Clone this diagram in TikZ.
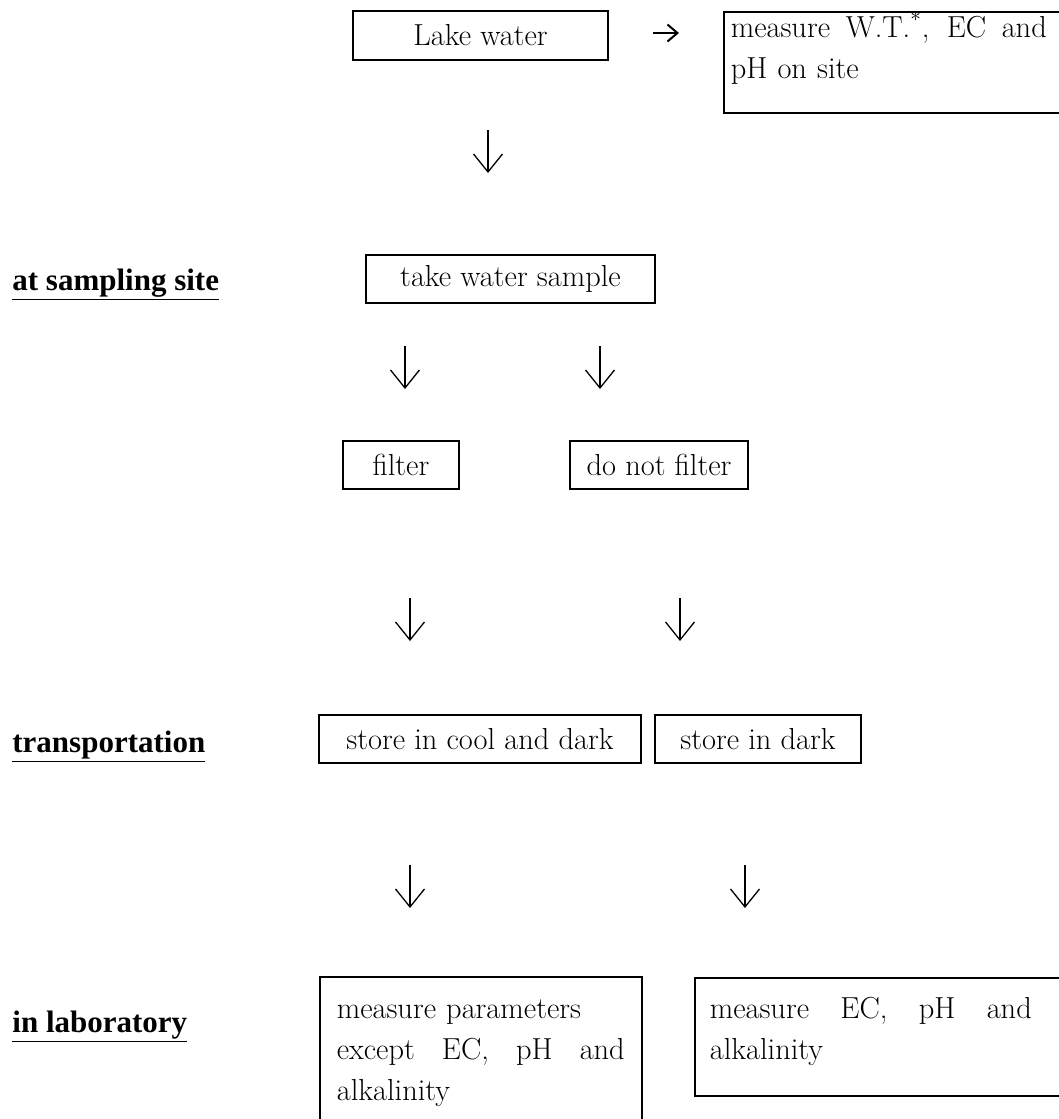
\documentclass[tikz,border=0pt]{standalone}
\usepackage{fontspec}
\usetikzlibrary{arrows.meta}
\newfontfamily\labelfont{Liberation Serif}
\newcommand{\boxfont}{\fontsize{15.2}{20.5}\selectfont}
\newcommand{\phasefont}{\labelfont\bfseries\fontsize{15.5}{18}\selectfont}
% one line stretched to a given width (align=left makes spaces rigid)
\newcommand{\spreadline}[2]{\makebox[#1][s]{\spaceskip=0pt\relax\xspaceskip=0pt\relax #2}}

\begin{document}
\begin{tikzpicture}[x=0.5pt, y=-0.5pt,
    box/.style={draw, line width=0.8pt, inner sep=0pt, font=\boxfont},
    textbox/.style={box, anchor=north west, align=left},
    phase/.style={anchor=base west, inner sep=0pt, font=\phasefont},
    down/.style={line width=0.65pt, -{Straight Barb[length=9pt, width=14.5pt]}}]
    \useasboundingbox (0,0) rectangle (1059,1119);

    % Steps, one box each
    \node[box, minimum width=127.5pt, minimum height=24.5pt] (lake) at (480.5,35.5) {Lake water};
    \node[textbox, inner xsep=3.5pt, text width=165pt, text height=13pt, text depth=37.5pt]
        (onsite) at (723,11)
        {\spreadline{158pt}{measure W.T.\textsuperscript{*}, EC and}\\ pH on site};
    \node[box, minimum width=144.5pt, minimum height=24pt] (sample) at (510.5,279) {take water sample};
    \node[box, minimum width=58pt, minimum height=24pt] (filter) at (401,465) {filter};
    \node[box, minimum width=89pt, minimum height=24pt] (nofilter) at (659,465) {do not filter};
    \node[box, minimum width=161pt, minimum height=24pt] (cooldark) at (480,739) {store in cool and dark};
    \node[box, minimum width=103pt, minimum height=24pt] (dark) at (758,739) {store in dark};
    \node[textbox, inner xsep=8.5pt, text width=144pt, text height=21pt, text depth=56pt]
        (params) at (319,976)
        {measure parameters\\ \spreadline{144pt}{except EC, pH and}\\ alkalinity};
    \node[textbox, inner xsep=7.5pt, text width=180pt, text height=20.5pt, text depth=38.5pt]
        (ecph) at (694,977)
        {\spreadline{161pt}{measure EC, pH and}\\ alkalinity};

    % Phases on the left
    \node[phase] (site) at (12,290) {\underline{at sampling site}};
    \node[phase] (transport) at (12,752) {\underline{transportation}};
    \node[phase] (lab) at (12,1032) {\underline{in laboratory}};

    % Arrows
    \coordinate (r start) at (653,33);
    \coordinate (r tip) at (679,33);
    \draw[line width=1pt, -{Straight Barb[length=5pt, width=8.5pt]}] (r start) -- (r tip);

    \foreach \n/\x/\y in {a/488/130, b/405/346, c/600/346, d/410/598,
                          e/680/598, f/410/865, g/745/865} {
        \coordinate (\n top) at (\x,\y);
        \coordinate (\n tip) at (\x,\y+43);
        \draw[down] (\n top) -- (\n tip);
    }
\end{tikzpicture}
\end{document}
